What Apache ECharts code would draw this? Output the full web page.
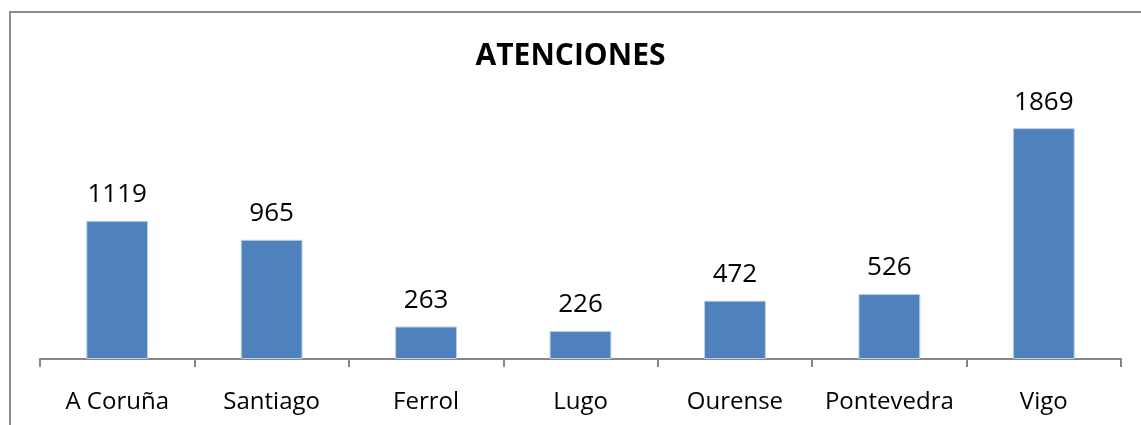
<!DOCTYPE html>
<html>
<head>
<meta charset="utf-8">
<script src="https://cdn.jsdelivr.net/npm/echarts@6/dist/echarts.min.js"></script>
<style>
  html, body { margin: 0; padding: 0; background: #fff; }
  #frame {
    position: absolute; left: 9px; top: 11px; width: 1200px; height: 500px;
    border: 2px solid #8c8c8c; box-sizing: border-box;
  }
  #chart { position: absolute; left: 0; top: 0; width: 1141px; height: 425px; }
</style>
</head>
<body>
<div id="frame"></div>
<div id="chart"></div>
<script>
// sedes y número de atenciones
const sedes = ["A Coruña", "Santiago", "Ferrol", "Lugo", "Ourense", "Pontevedra", "Vigo"];
const atenciones = [1119, 965, 263, 226, 472, 526, 1869];

const chart = echarts.init(document.getElementById("chart"));
chart.setOption({
  animation: false,
  title: {
    text: "ATENCIONES",
    left: "center",
    top: 36,
    textStyle: { fontFamily: "Open Sans", fontWeight: "bold", fontSize: 30, color: "#000" },
  },
  grid: { left: 40, right: 20, top: 112, bottom: 66 },
  xAxis: {
    type: "category",
    data: sedes,
    axisLine: { lineStyle: { color: "#868686", width: 2 } },
    axisTick: { show: true, interval: 0, length: 8, lineStyle: { color: "#868686", width: 2 } },
    axisLabel: { interval: 0, fontFamily: "Open Sans", fontSize: 24, color: "#000", margin: 31 },
  },
  yAxis: { type: "value", min: 0, max: 2000, show: false, splitLine: { show: false } },
  series: [
    {
      type: "bar",
      data: atenciones,
      barWidth: "40%",
      itemStyle: { color: "#4f81bd", borderColor: "#b9cde5", borderWidth: 1 },
      label: {
        show: true,
        position: "top",
        distance: 13,
        fontFamily: "Open Sans",
        fontSize: 26,
        color: "#000",
      },
    },
  ],
});
</script>
</body>
</html>
